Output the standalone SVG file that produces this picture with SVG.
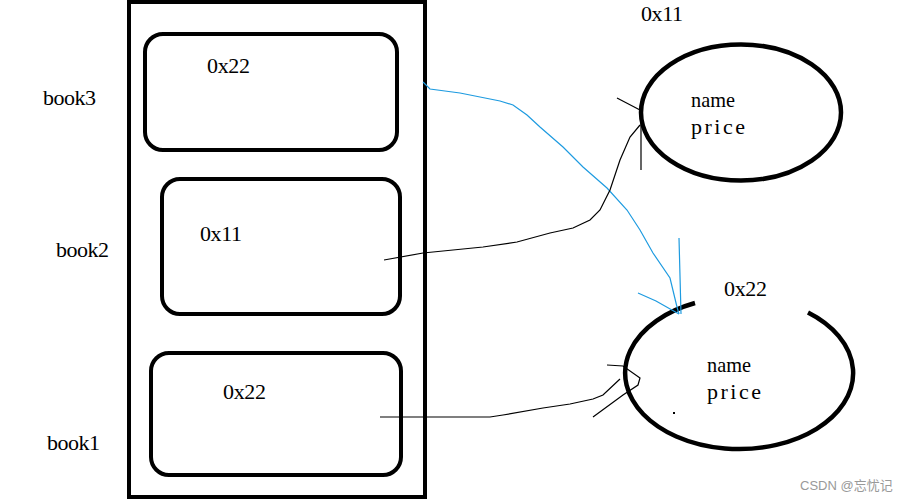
<svg xmlns="http://www.w3.org/2000/svg" width="914" height="500" viewBox="0 0 914 500">
<style>
.shape{fill:none;stroke:#000;stroke-width:4}
.el{fill:none;stroke:#000;stroke-width:4.5}
.t{font-family:"Liberation Serif",serif;font-size:22px;fill:#000}
.c{fill:none;stroke:#000;stroke-width:1.2}
.b{fill:none;stroke:#1e9be0;stroke-width:1.2}
</style>
<rect width="914" height="500" fill="#fff"/>
<g id="stack">
<rect class="shape" x="129" y="2" width="296" height="495"/>
</g>
<g id="book3">
<rect class="shape" x="145" y="34" width="252" height="116" rx="18"/>
<text class="t" x="207" y="73" textLength="43" lengthAdjust="spacing">0x22</text>
<text class="t" x="43" y="105" textLength="53" lengthAdjust="spacing">book3</text>
</g>
<g id="book2">
<rect class="shape" x="162" y="179" width="238" height="135" rx="18"/>
<text class="t" x="200" y="241" textLength="42" lengthAdjust="spacing">0x11</text>
<text class="t" x="56" y="257" textLength="53" lengthAdjust="spacing">book2</text>
</g>
<g id="book1">
<rect class="shape" x="151" y="353" width="250" height="122" rx="18"/>
<text class="t" x="223" y="399" textLength="43" lengthAdjust="spacing">0x22</text>
<text class="t" x="47" y="450" textLength="53" lengthAdjust="spacing">book1</text>
</g>
<g id="obj11">
<ellipse class="el" cx="741" cy="112.5" rx="100" ry="68"/>
<text class="t" x="641" y="21" textLength="42" lengthAdjust="spacing">0x11</text>
<text class="t" x="691" y="107" textLength="44" lengthAdjust="spacingAndGlyphs">name</text>
<text class="t" x="691" y="134" textLength="54" lengthAdjust="spacing">price</text>
</g>
<g id="obj22">
<path class="el" d="M808,312.5 A114,76 0 1 1 695,303"/>
<text class="t" x="724" y="296" textLength="43" lengthAdjust="spacing">0x22</text>
<text class="t" x="707" y="372" textLength="44" lengthAdjust="spacingAndGlyphs">name</text>
<text class="t" x="707" y="399" textLength="54" lengthAdjust="spacing">price</text>
<rect x="673" y="412" width="2" height="2" fill="#000"/>
</g>
<g id="connectors">
<path class="b" d="M423,82 L430,89 L460,93 L500,101 L513,105 L527,115 L540,127 L563,147 L583,167 L607,188 L627,210 L640,230 L653,253 L670,278 L677,307 L679,314"/>
<path class="b" d="M638,293 L656,301 L679,314 M679,238 L681,314"/>
<path class="c" d="M384,260 L423,253 L483,247 L517,242 L550,233 L573,228 L590,220 L600,210 L610,190 L620,160 L630,137 L640,125"/>
<path class="c" d="M617,98 L640,110 M641,113 L641,170"/>
<path class="c" d="M380,417 L490,417 L503,415 L543,408 L570,404 L593,399 L603,395 L620,379"/>
<path class="c" d="M607,365 L623,366 L640,378 L638,385 L623,395 L593,417"/>
</g>
<text x="800" y="490" font-family="Liberation Sans,Noto Sans CJK SC,sans-serif" font-size="13" fill="#999">CSDN @忘忧记</text>
</svg>
